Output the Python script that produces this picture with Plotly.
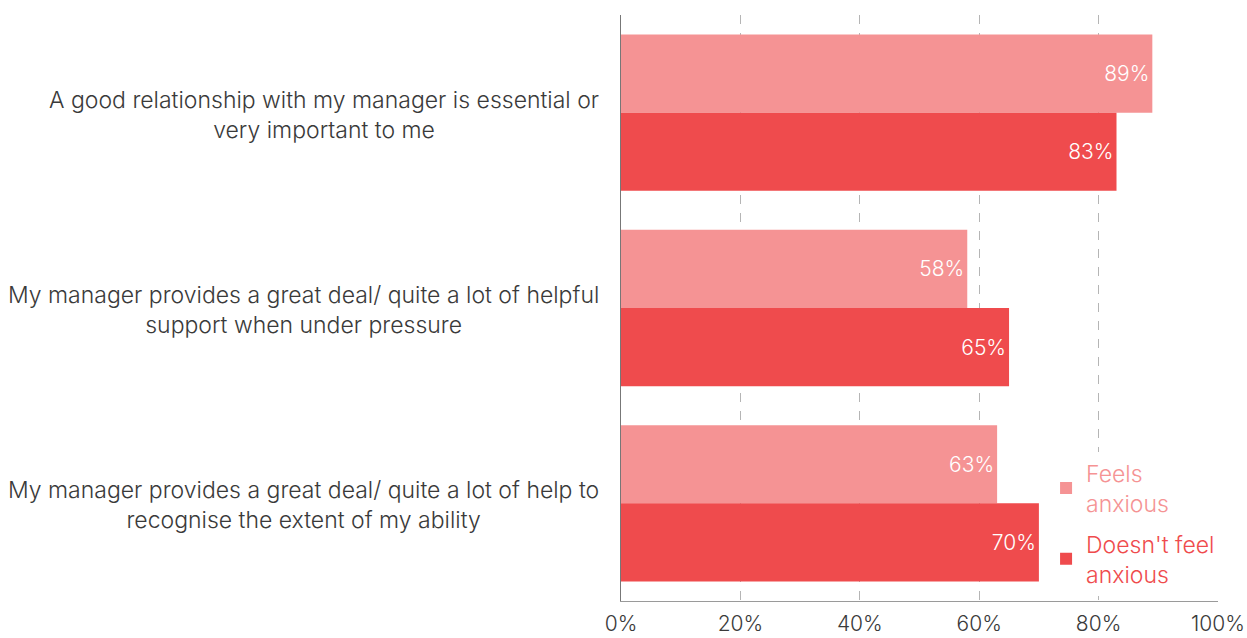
import plotly.graph_objects as go

categories = [
    "A good relationship with my manager is essential or<br>very important to me",
    "My manager provides a great deal/ quite a lot of helpful<br>support when under pressure",
    "My manager provides a great deal/ quite a lot of help to<br>recognise the extent of my ability",
]
cat_ids = ["c1", "c2", "c3"]
feels_anxious = [89, 58, 63]
not_anxious = [83, 65, 70]
tick_vals = [0, 20, 40, 60, 80, 100]
tick_text = ["0%", "20%", "40%", "60%", "80%", "100%"]

LIGHT = "#F59394"
DARK = "#EF4B4D"
FONT = "Inter"

fig = go.Figure()
fig.add_trace(go.Bar(
    y=cat_ids, x=feels_anxious, orientation="h",
    name=f'<span style="color:{LIGHT}">Feels<br>anxious</span>',
    legendgroup="g1",
    marker=dict(color=LIGHT, line=dict(width=0)),
    text=[f"{v}%" for v in feels_anxious], textposition="inside",
    insidetextanchor="end",
    textfont=dict(color="white", size=21, family=FONT, weight=300),
))
fig.add_trace(go.Bar(
    y=cat_ids, x=not_anxious, orientation="h",
    name=f'<span style="color:{DARK}">Doesn\'t feel<br>anxious</span>',
    legendgroup="g2",
    marker=dict(color=DARK, line=dict(width=0)),
    text=[f"{v}%" for v in not_anxious], textposition="inside",
    insidetextanchor="end",
    textfont=dict(color="white", size=21, family=FONT, weight=300),
))

for cid, label in zip(cat_ids, categories):
    fig.add_annotation(
        x=0.0, xref="paper", y=cid, yref="y",
        text=label, showarrow=False, xanchor="right", xshift=-20,
        align="center", yshift=-2,
        font=dict(size=23, family=FONT, color="#3a3a3a", weight=300),
    )

fig.update_layout(
    width=1247, height=638,
    margin=dict(l=621, r=29, t=15, b=37, autoexpand=False),
    paper_bgcolor="white", plot_bgcolor="white",
    barmode="group", bargap=0.2, bargroupgap=0,
    showlegend=True,
    legend=dict(
        x=0.712, y=0.255, xanchor="left", yanchor="top",
        bgcolor="white",
        font=dict(size=23, family=FONT, weight=300),
        traceorder="grouped", itemwidth=30, tracegroupgap=8,
    ),
    font=dict(family=FONT),
)
fig.update_xaxes(
    range=[0, 100], tickvals=tick_vals, ticktext=tick_text,
    showgrid=True, gridcolor="#b5b5b5", griddash="dash", gridwidth=1,
    zeroline=False, showline=True, linecolor="#9a9a9a", linewidth=1,
    tickfont=dict(size=21, family=FONT, color="#3a3a3a", weight=300),
    ticks="", ticklabelstandoff=4, fixedrange=True, automargin=False,
)
fig.update_yaxes(
    categoryorder="array", categoryarray=cat_ids, autorange="reversed",
    showticklabels=False, showgrid=False, zeroline=False,
    showline=True, linecolor="#777777", linewidth=1, ticks="", automargin=False,
)

fig.write_html("out.html")
